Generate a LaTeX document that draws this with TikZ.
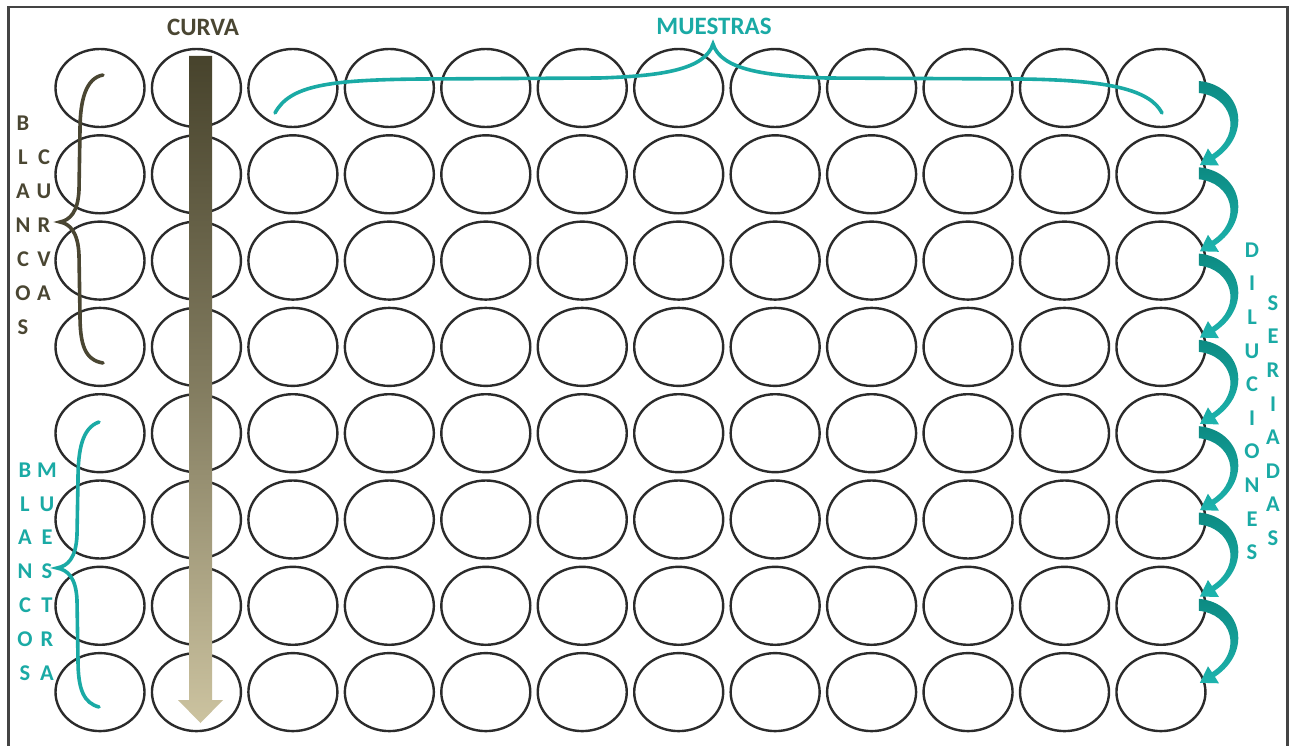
\documentclass[tikz,border=0pt]{standalone}
\usepackage{fontspec}
\setmainfont{Carlito}
\usetikzlibrary{shapes.geometric}
\definecolor{olivedark}{HTML}{47432C}
\definecolor{olivetext}{HTML}{4A4632}
\definecolor{tanlight}{HTML}{CCC3A0}
\definecolor{tealc}{HTML}{1AAAA5}
\definecolor{tealdark}{HTML}{0C8A82}
\definecolor{teallight}{HTML}{1DB4AE}
\definecolor{wellgray}{HTML}{2B2B2B}
\definecolor{framegray}{HTML}{444444}
\begin{document}
\begin{tikzpicture}[x=1pt,y=-1pt,
  well/.style={ellipse, draw=wellgray, line width=2.4pt, minimum width=89pt, minimum height=78pt, inner sep=0pt},
  toplabel/.style={font=\bfseries\fontsize{25}{25}\selectfont, inner sep=0pt},
  vletter/.style={font=\bfseries\fontsize{22.5}{22.5}\selectfont, inner sep=0pt},
  bracestyle/.style={line width=3.6pt, line cap=round},
  framestyle/.style={draw=framegray, line width=2.8pt}]
\useasboundingbox (0,0) rectangle (1296,746);
\fill[white] (0,0) rectangle (1296,746);
% frame (open at bottom)
\draw[framestyle] (8.5,750) -- (8.5,7) -- (1287.5,7) -- (1287.5,750);
% wells
\foreach \r in {1,...,8}{
  \foreach \c in {1,...,12}{
    \node[well] (w-\r-\c) at ({100+96.45*(\c-1)},{88+86.3*(\r-1)}) {};
  }
}
% CURVA arrow
\shade[top color=olivedark, bottom color=tanlight, middle color=olivedark!55!tanlight]
  (189,56) -- (212,56) -- (212,700) -- (223,700) -- (200.5,723) -- (178,700) -- (189,700) -- cycle;
\node[toplabel, text=olivetext] (curva) at (203,27) {CURVA};
\node[toplabel, text=tealc] (muestras) at (714,26) {MUESTRAS};
% MUESTRAS brace
\draw[bracestyle, tealc] (275,113) .. controls (290,85) and (330,80) .. (420,79) -- (600,78)
  .. controls (660,76) and (705,70) .. (713,44)
  .. controls (721,70) and (766,76) .. (826,78) -- (1020,79)
  .. controls (1110,80) and (1150,90) .. (1162,113);
% upper left brace (olive)
\draw[bracestyle, olivetext] (103,75) .. controls (86,78) and (80,100) .. (80,130) -- (79,190)
  .. controls (78,212) and (70,220) .. (60,222)
  .. controls (70,224) and (78,232) .. (79,255) -- (80,315)
  .. controls (80,345) and (85,360) .. (103,363);
% lower left brace (teal)
\draw[bracestyle, tealc] (99,422) .. controls (82,428) and (78,450) .. (78,480) -- (77,535)
  .. controls (76,558) and (68,566) .. (57,568)
  .. controls (68,570) and (76,578) .. (77,600) -- (78,660)
  .. controls (78,690) and (84,703) .. (99,707);
% vertical letters
\foreach \l [count=\k] in {B,L,A,N,C,O,S}
  \node[vletter, text=olivetext] (blancosA-\k) at (23,{123+34*(\k-1)}) {\l};
\foreach \l [count=\k] in {C,U,R,V,A}
  \node[vletter, text=olivetext] (curvasv-\k) at (44,{157+34*(\k-1)}) {\l};
\foreach \l [count=\k] in {B,L,A,N,C,O,S}
  \node[vletter, text=tealc] (blancosB-\k) at (25,{470+33.8*(\k-1)}) {\l};
\foreach \l [count=\k] in {M,U,E,S,T,R,A}
  \node[vletter, text=tealc] (muestrav-\k) at (47,{470+33.8*(\k-1)}) {\l};
\foreach \l [count=\k] in {D,I,L,U,C,I,O,N,E,S}
  \node[vletter, text=tealc] (dil-\k) at (1252,{250+33.6*(\k-1)}) {\l};
\foreach \l [count=\k] in {S,E,R,I,A,D,A,S}
  \node[vletter, text=tealc] (ser-\k) at (1273,{303+33.6*(\k-1)}) {\l};
% serial dilution arrows
\foreach \r in {1,...,7}{
  \begin{scope}[shift={(w-\r-12.center)}]
    \shade[top color=tealdark, bottom color=teallight]
      (38,-7) .. controls (80,-3) and (93,45) .. (54,71)
      -- (58,77.5) -- (39,77) -- (47,60.5) -- (51,66.5)
      .. controls (83,45) and (70,8) .. (38,5) -- cycle;
  \end{scope}
}
\end{tikzpicture}
\end{document}
